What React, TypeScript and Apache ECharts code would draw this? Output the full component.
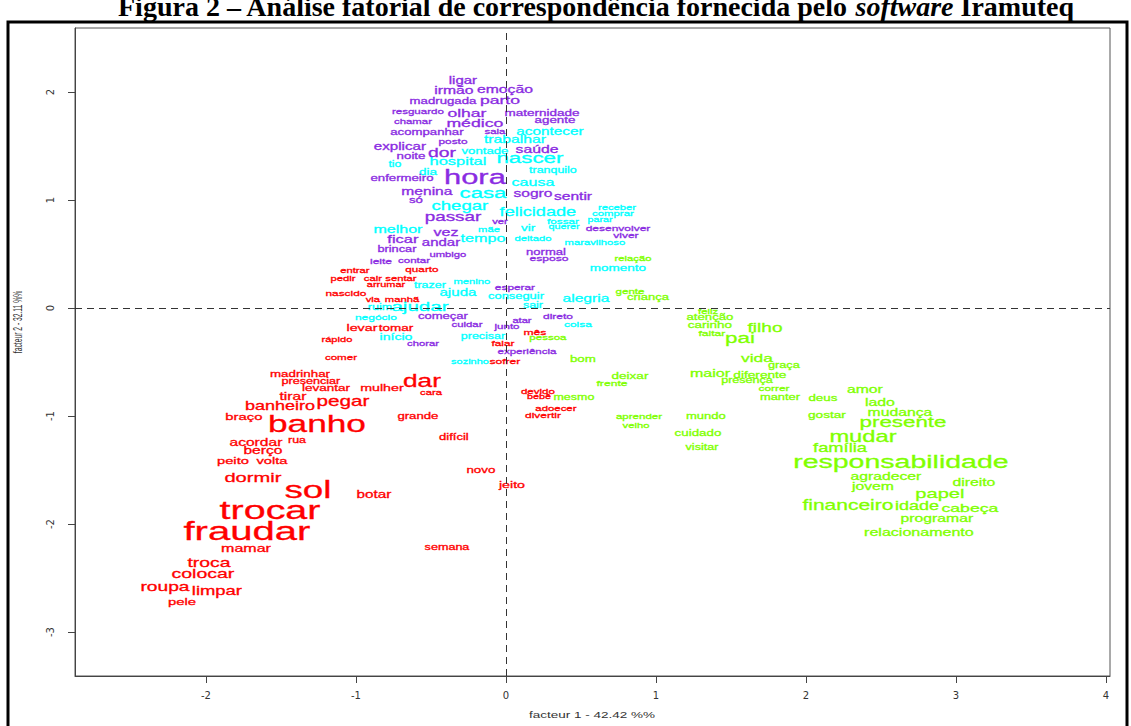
import React, { useEffect, useRef } from "react";
import * as echarts from "echarts";

// word, facteur 1, facteur 2, weight (text size)
const purpleClass: [string, number, number, number][] = [
  ["ligar", -0.287, 2.111, 10], ["irmão", -0.347, 2.019, 10.5], ["emoção", -0.007, 2.028, 10.5],
  ["madrugada", -0.42, 1.917, 8.8], ["parto", -0.04, 1.926, 11.7], ["resguardo", -0.587, 1.824, 7.7],
  ["olhar", -0.26, 1.806, 11.7], ["maternidade", 0.24, 1.806, 9], ["chamar", -0.62, 1.731, 7.6],
  ["médico", -0.207, 1.713, 11.8], ["agente", 0.327, 1.741, 8.9], ["acompanhar", -0.527, 1.63, 8.8],
  ["sala", -0.073, 1.639, 7.6], ["posto", -0.353, 1.546, 7.9], ["explicar", -0.707, 1.5, 10.1],
  ["dor", -0.427, 1.444, 12.9], ["saúde", 0.207, 1.472, 10.5], ["noite", -0.633, 1.407, 8.9],
  ["enfermeiro", -0.693, 1.204, 8.8], ["hora", -0.207, 1.213, 20.6], ["menina", -0.527, 1.083, 10.4],
  ["sogro", 0.18, 1.065, 10.4], ["sentir", 0.447, 1.037, 10.4], ["só", -0.6, 1.0, 8.8],
  ["passar", -0.353, 0.852, 12.6], ["ver", -0.04, 0.806, 7.5], ["desenvolver", 0.747, 0.741, 8],
  ["viver", 0.8, 0.676, 8], ["vez", -0.4, 0.704, 10.7], ["ficar", -0.687, 0.639, 11],
  ["andar", -0.433, 0.611, 10], ["brincar", -0.727, 0.546, 8.5], ["umbigo", -0.387, 0.5, 7.5],
  ["normal", 0.267, 0.519, 8.7], ["leite", -0.833, 0.435, 8], ["contar", -0.613, 0.444, 7.7],
  ["esposo", 0.287, 0.463, 8.1], ["esperar", 0.06, 0.194, 7.9], ["começar", -0.42, -0.074, 8.7],
  ["direto", 0.347, -0.074, 8], ["atar", 0.107, -0.111, 7.4], ["cuidar", -0.26, -0.148, 7.6],
  ["junto", 0.007, -0.167, 7.7], ["chorar", -0.553, -0.324, 7.5], ["experiência", 0.14, -0.398, 7.7],
];

const cyanClass: [string, number, number, number][] = [
  ["acontecer", 0.293, 1.639, 10.2], ["trabalhar", 0.06, 1.565, 10.5], ["vontade", -0.14, 1.454, 8.8],
  ["hospital", -0.32, 1.361, 11], ["nascer", 0.16, 1.389, 14.9], ["tio", -0.74, 1.333, 8.2],
  ["dia", -0.52, 1.259, 9], ["tranquilo", 0.313, 1.278, 8.3], ["causa", 0.18, 1.167, 10.7],
  ["casa", -0.153, 1.065, 14.8], ["chegar", -0.307, 0.944, 12.4], ["receber", 0.74, 0.935, 7.5],
  ["felicidade", 0.213, 0.889, 12.1], ["comprar", 0.713, 0.88, 7.6], ["fossar", 0.38, 0.806, 7.8],
  ["parar", 0.627, 0.815, 7.1], ["melhor", -0.72, 0.731, 10.7], ["mãe", -0.113, 0.731, 7.5],
  ["vir", 0.147, 0.741, 9], ["querer", 0.387, 0.75, 7.2], ["tempo", -0.153, 0.648, 10.8],
  ["deitado", 0.18, 0.648, 7.5], ["maravilhoso", 0.593, 0.611, 7.5], ["momento", 0.747, 0.37, 9],
  ["menino", -0.227, 0.25, 7.5], ["trazer", -0.507, 0.213, 8.3], ["ajuda", -0.32, 0.148, 10.1],
  ["conseguir", 0.067, 0.111, 8.6], ["alegria", 0.533, 0.093, 10.4], ["ruim", -0.84, 0.009, 8.3],
  ["ajudar", -0.573, 0.019, 13.7], ["sair", 0.18, 0.028, 8.3], ["negócio", -0.867, -0.083, 8],
  ["coisa", 0.48, -0.148, 8], ["início", -0.733, -0.269, 9.4], ["precisar", -0.153, -0.259, 8.3],
  ["sozinho", -0.24, -0.5, 7.3],
];

const redClass: [string, number, number, number][] = [
  ["entrar", -1.007, 0.352, 7.5], ["quarto", -0.56, 0.361, 7.8], ["pedir", -1.087, 0.278, 7.5],
  ["cair", -0.887, 0.278, 7.5], ["sentar", -0.7, 0.278, 7.5], ["arrumar", -0.8, 0.213, 7.3],
  ["nascido", -1.067, 0.139, 7.9], ["via", -0.887, 0.083, 7.5], ["manhã", -0.693, 0.083, 7.5],
  ["levar", -0.96, -0.185, 9.5], ["tomar", -0.733, -0.185, 9], ["mês", 0.193, -0.222, 8.1],
  ["rápido", -1.127, -0.287, 7.4], ["falar", -0.02, -0.324, 7.9], ["comer", -1.1, -0.454, 7.7],
  ["sofrer", -0.007, -0.491, 8.1], ["madrinhar", -1.373, -0.611, 8.9], ["presenciar", -1.3, -0.676, 8.4],
  ["levantar", -1.2, -0.741, 9], ["mulher", -0.827, -0.741, 9.5], ["dar", -0.56, -0.676, 17.5],
  ["cara", -0.5, -0.778, 7.5], ["tirar", -1.42, -0.815, 10.4], ["pegar", -1.087, -0.861, 13.8],
  ["banheiro", -1.507, -0.907, 12], ["braço", -1.747, -1.009, 9.9], ["grande", -0.587, -1.0, 8.8],
  ["banho", -1.26, -1.074, 23.5], ["difícil", -0.347, -1.194, 8.7], ["acordar", -1.667, -1.241, 10.4],
  ["rua", -1.393, -1.222, 8.3], ["berço", -1.62, -1.315, 10.4], ["peito", -1.82, -1.417, 9.8],
  ["volta", -1.56, -1.417, 9.8], ["dormir", -1.687, -1.574, 13.4], ["sol", -1.32, -1.685, 24.5],
  ["botar", -0.88, -1.722, 10.2], ["trocar", -1.573, -1.87, 26.3], ["fraudar", -1.727, -2.065, 26.7],
  ["mamar", -1.733, -2.222, 10.7], ["semana", -0.393, -2.213, 8.4], ["troca", -1.98, -2.352, 12.9],
  ["colocar", -2.02, -2.463, 13], ["roupa", -2.273, -2.574, 12.8], ["limpar", -1.927, -2.62, 12.3],
  ["pele", -2.16, -2.722, 9.9], ["novo", -0.167, -1.5, 8.9], ["jeito", 0.04, -1.639, 9.5],
  ["devido", 0.213, -0.769, 7.7], ["bebê", 0.22, -0.824, 7.2], ["adoecer", 0.333, -0.926, 7.6],
  ["divertir", 0.247, -0.991, 8],
];

const greenClass: [string, number, number, number][] = [
  ["relação", 0.847, 0.463, 7.5], ["gente", 0.827, 0.157, 7.7], ["criança", 0.947, 0.102, 8.7],
  ["feliz", 1.347, -0.028, 7.5], ["atenção", 1.36, -0.083, 8.8], ["carinho", 1.36, -0.157, 9],
  ["faltar", 1.373, -0.231, 8.1], ["filho", 1.727, -0.176, 12.7], ["pai", 1.56, -0.278, 15],
  ["pessoa", 0.28, -0.269, 7.7], ["bom", 0.513, -0.472, 8.9], ["vida", 1.673, -0.463, 11.6],
  ["graça", 1.853, -0.528, 8.5], ["maior", 1.36, -0.602, 10.7], ["diferente", 1.693, -0.611, 9.1],
  ["presença", 1.607, -0.667, 8.4], ["deixar", 0.827, -0.63, 9], ["frente", 0.707, -0.694, 8.1],
  ["correr", 1.787, -0.741, 7.9], ["manter", 1.827, -0.824, 8.6], ["mesmo", 0.453, -0.824, 8.3],
  ["aprender", 0.887, -1.0, 7.7], ["velho", 0.867, -1.083, 7.5], ["mundo", 1.333, -1.0, 8.7],
  ["cuidado", 1.28, -1.157, 8.9], ["visitar", 1.307, -1.287, 8.4], ["amor", 2.393, -0.75, 10.5],
  ["deus", 2.113, -0.833, 8.9], ["lado", 2.493, -0.87, 10.6], ["gostar", 2.14, -0.981, 9.1],
  ["mudança", 2.627, -0.963, 10.5], ["presente", 2.647, -1.056, 14.9], ["mudar", 2.38, -1.185, 15.8],
  ["família", 2.227, -1.296, 12.2], ["responsabilidade", 2.633, -1.417, 19], ["agradecer", 2.533, -1.556, 10.5],
  ["direito", 3.12, -1.611, 10.5], ["jovem", 2.447, -1.648, 10.5], ["papel", 2.893, -1.722, 13.4],
  ["financeiro", 2.28, -1.824, 14], ["idade", 2.74, -1.833, 12], ["cabeça", 3.093, -1.852, 11.8],
  ["programar", 2.873, -1.944, 10.5], ["relacionamento", 2.753, -2.074, 10.7],
];

const xTicks = [-2, -1, 0, 1, 2, 3, 4];
const yTicks = [-3, -2, -1, 0, 1, 2];
const xRange = [-2.873, 4.027];
const yRange = [-3.407, 2.593];

const STRETCH = 1.5;
const WORD_FONT = "'Liberation Sans', Arial, sans-serif";

function wordSeries(name: string, rows: [string, number, number, number][], color: string, withLines = false) {
  const s: any = {
    type: "custom",
    name,
    data: rows.map((r) => [r[1], r[2], r[3]]),
    encode: { x: 0, y: 1 },
    renderItem: (params: any, api: any) => {
      const p = api.coord([api.value(0), api.value(1)]);
      const row = rows[params.dataIndex];
      return {
        type: "text",
        x: p[0],
        y: p[1],
        scaleX: STRETCH,
        style: {
          text: row[0],
          fontSize: api.value(2),
          fontFamily: WORD_FONT,
          fill: color,
          stroke: color,
          lineWidth: 0.3,
          align: "center",
          verticalAlign: "middle",
        },
      };
    },
  };
  if (withLines) {
    s.markLine = {
      silent: true,
      symbol: "none",
      label: { show: false },
      lineStyle: { type: [7, 5], color: "#333", width: 1 },
      data: [{ xAxis: 0 }, { yAxis: 0 }],
    };
  }
  return s;
}

export default function App() {
  const ref = useRef<HTMLDivElement>(null);
  useEffect(() => {
    if (!ref.current) return;
    const chart = echarts.init(ref.current, null, { renderer: "svg" });
    chart.setOption({
      animation: false,
      backgroundColor: "#fff",
      grid: { left: 75, right: 21, top: 28, bottom: 50, show: true, borderColor: "#555", borderWidth: 1 },
      xAxis: {
        type: "value",
        min: xRange[0],
        max: xRange[1],
        axisLine: { show: true, onZero: false, lineStyle: { color: "#444" } },
        splitLine: { show: false },
        axisTick: { show: true, customValues: xTicks, length: 7, lineStyle: { color: "#444" } },
        axisLabel: { customValues: xTicks, fontSize: 10, color: "#333", margin: 14, fontFamily: "'DejaVu Sans', sans-serif" },
      },
      yAxis: {
        type: "value",
        min: yRange[0],
        max: yRange[1],
        axisLine: { show: true, onZero: false, lineStyle: { color: "#444" } },
        splitLine: { show: false },
        axisTick: { show: true, customValues: yTicks, length: 7, lineStyle: { color: "#444" } },
        axisLabel: { customValues: yTicks, fontSize: 10, color: "#333", margin: 20, rotate: 90, fontFamily: "'DejaVu Sans', sans-serif" },
      },
      graphic: [
        {
          type: "rect",
          shape: { x: 8, y: 22, width: 1119, height: 730 },
          style: { fill: "none", stroke: "#000", lineWidth: 3 },
          silent: true,
        },
        {
          type: "text",
          x: 118,
          y: 6,
          style: {
            text: "Figura 2 – Análise fatorial de correspondência fornecida pelo {i|software} Iramuteq",
            font: "bold 28px 'Liberation Serif', 'Times New Roman', serif",
            fill: "#000",
            align: "left",
            verticalAlign: "middle",
            rich: { i: { font: "italic bold 28px 'Liberation Serif', 'Times New Roman', serif", fill: "#000" } },
          },
        },
        {
          type: "text",
          x: 592,
          y: 715,
          scaleX: STRETCH,
          style: { text: "facteur 1 - 42.42 %%", fontSize: 9, fontFamily: WORD_FONT, fill: "#333", align: "center", verticalAlign: "middle" },
        },
        {
          type: "text",
          x: 18,
          y: 322,
          rotation: Math.PI / 2,
          scaleX: 0.75,
          scaleY: 1.4,
          style: { text: "facteur 2 - 32.11 %%", fontSize: 9, fontFamily: WORD_FONT, fill: "#333", align: "center", verticalAlign: "middle" },
        },
      ],
      series: [
        wordSeries("classe 1", redClass, "#FF0000", true),
        wordSeries("classe 2", greenClass, "#80FF00"),
        wordSeries("classe 3", cyanClass, "#00FFFF"),
        wordSeries("classe 4", purpleClass, "#8A2BE2"),
      ],
    });
    return () => chart.dispose();
  }, []);
  return <div ref={ref} style={{ position: "fixed", left: 0, top: 0, width: 1131, height: 726, background: "#fff" }} />;
}
